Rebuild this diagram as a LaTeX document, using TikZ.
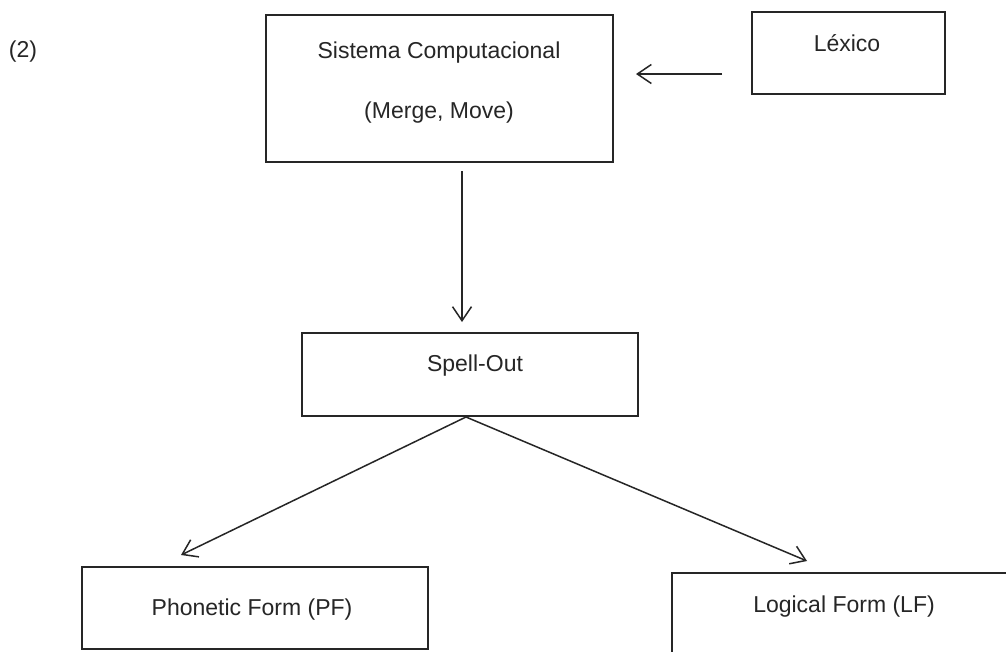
\documentclass[tikz,border=0pt]{standalone}
\usepackage{fontspec}
\setmainfont{Liberation Sans}
\usetikzlibrary{arrows.meta}
\begin{document}
\begin{tikzpicture}[x=1pt,y=-1pt,
  frame/.style={draw=black!85, line width=1.6pt, inner sep=0pt, outer sep=0pt, anchor=north west},
  lbl/.style={inner sep=0pt, font=\fontsize{23}{27}\selectfont, text=black!85},
  arr/.style={draw=black!85, line width=1.5pt, -{Straight Barb[length=14pt,width=19pt]}}]
  \clip (0,0) rectangle (1006,651);
  \fill[white] (0,0) rectangle (1006,651);

  % boxes
  \node[frame, minimum width=347pt, minimum height=147pt] (sc) at (266,15) {};
  \node[frame, minimum width=193pt, minimum height=82pt] (lx) at (752,12) {};
  \node[frame, minimum width=336pt, minimum height=83pt] (sp) at (302,333) {};
  \node[frame, minimum width=346pt, minimum height=82pt] (pf) at (82,567) {};
  \node[frame, minimum width=345pt, minimum height=90pt] (lf) at (672,573) {};

  % texts
  \node[lbl] (num) at (23,52) {(2)};
  \node[lbl] (sct) at (439,53) {Sistema Computacional};
  \node[lbl] (scm) at (439,113) {(Merge, Move)};
  \node[lbl] (lxt) at (847,43) {Léxico};
  \node[lbl] (spt) at (475,366) {Spell-Out};
  \node[lbl] (pft) at (252,610) {Phonetic Form (PF)};
  \node[lbl] (lft) at (844,607) {Logical Form (LF)};

  % connector ends
  \coordinate (lxa) at (722,74);
  \coordinate (lxb) at (636,74);
  \coordinate (sca) at (462,171);
  \coordinate (spa) at (462,322);
  \coordinate (spo) at (466,417);
  \coordinate (pfa) at (181,555);
  \coordinate (lfa) at (807,561);

  % connectors
  \draw[arr] (lxa) -- (lxb);
  \draw[arr] (sca) -- (spa);
  \draw[arr] (spo) -- (pfa);
  \draw[arr] (spo) -- (lfa);
\end{tikzpicture}
\end{document}
